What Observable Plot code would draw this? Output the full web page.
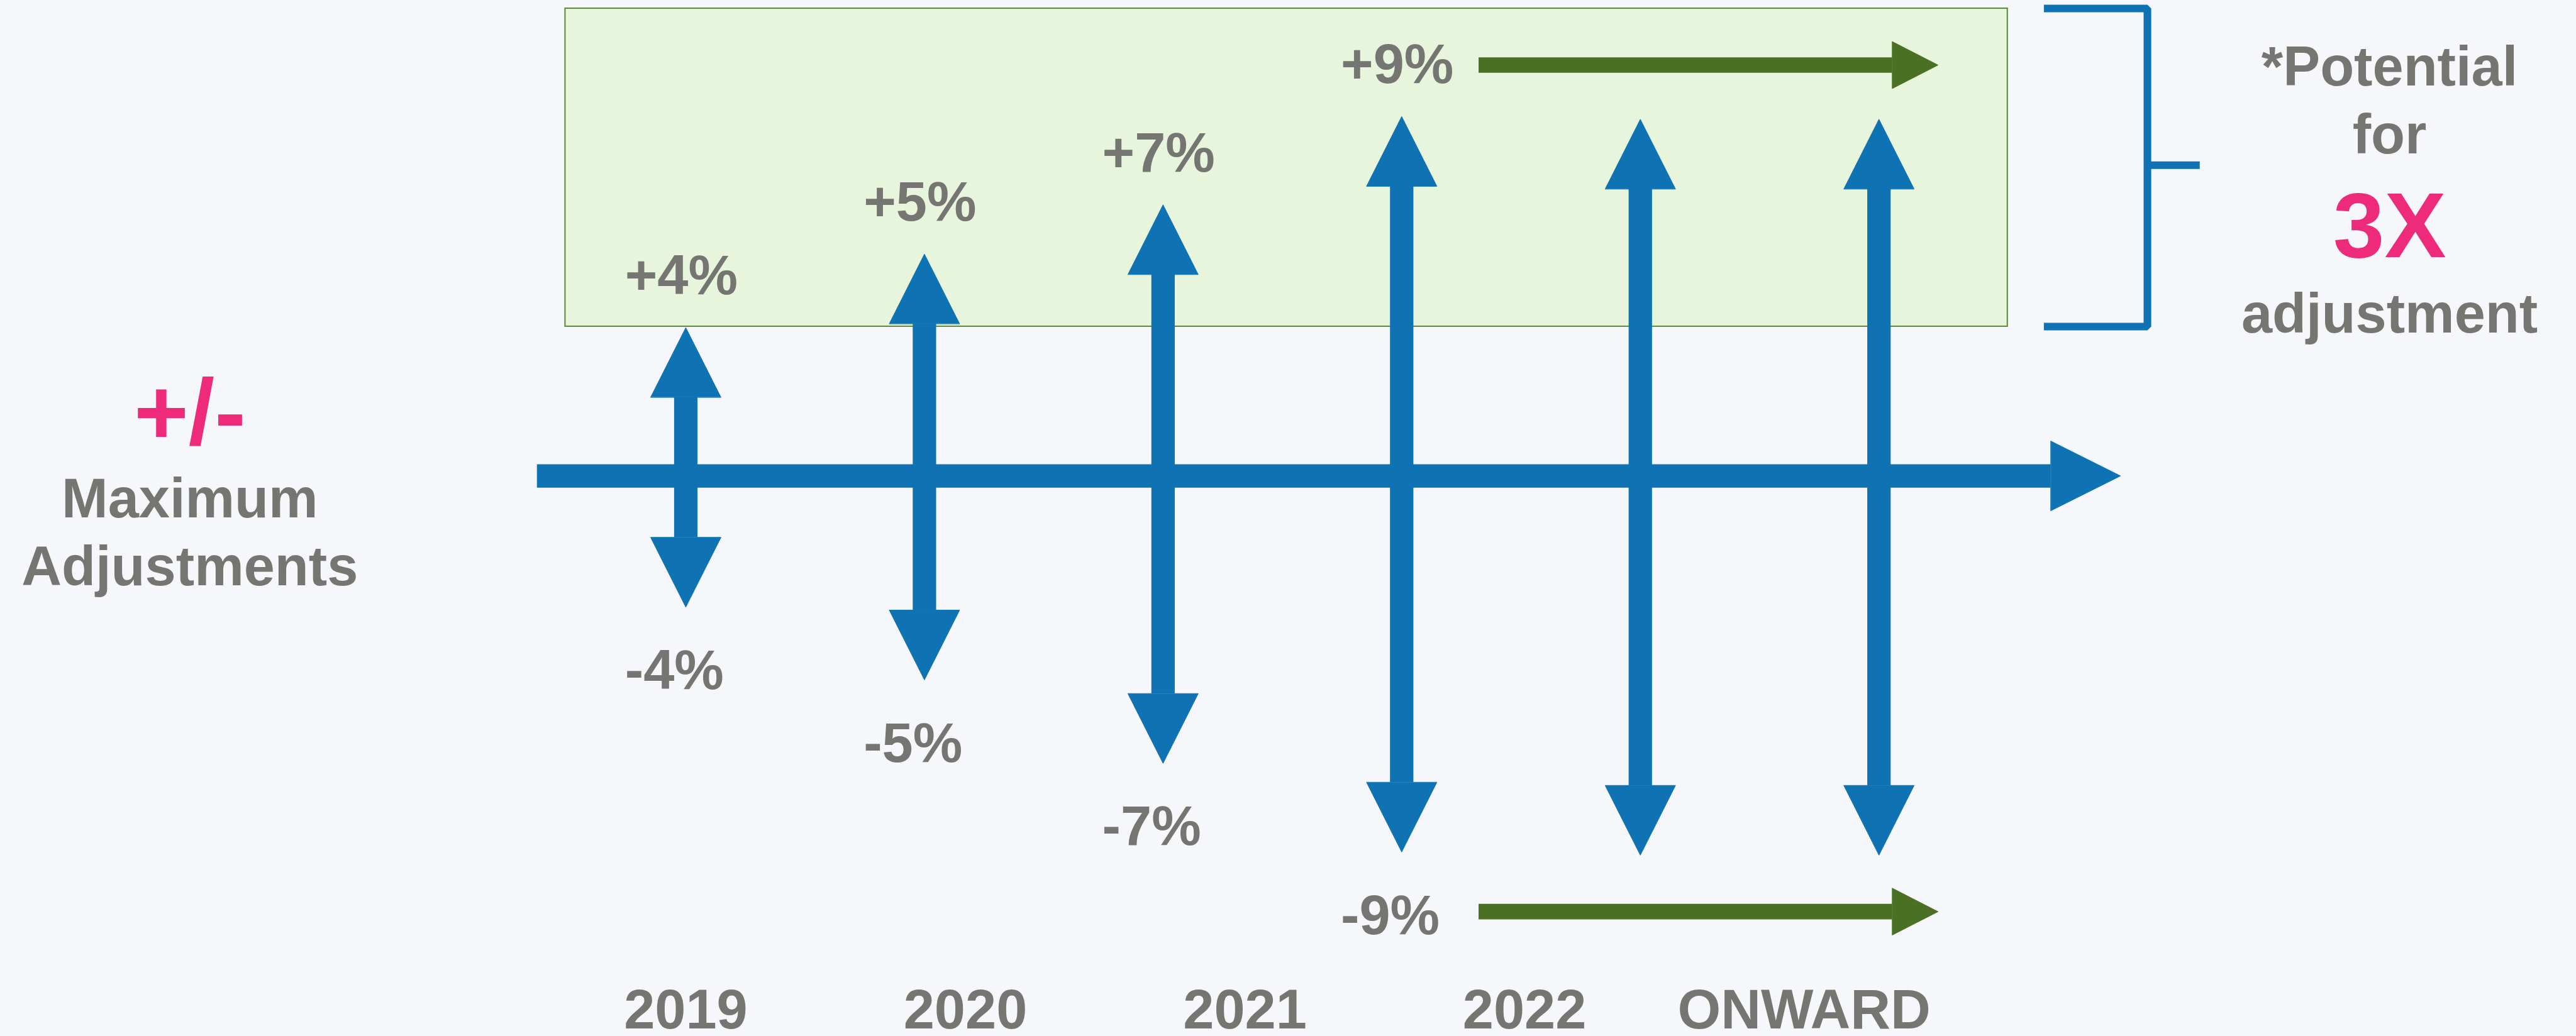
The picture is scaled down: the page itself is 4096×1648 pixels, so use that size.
<!DOCTYPE html>
<html><head><meta charset="utf-8">
<script src="https://cdn.jsdelivr.net/npm/d3@7"></script>
<script src="https://cdn.jsdelivr.net/npm/@observablehq/plot@0.6"></script>
<style>
html,body{margin:0;padding:0;background:#f5f7fb;overflow:hidden}
#chart svg{display:block}
</style></head><body><div id="chart"></div>
<script>
// ---------------- data ----------------
const years = ["2019", "2020", "2021", "2022", "ONWARD"];
const maxUp = [4, 5, 7, 9];          // labelled maximum upward adjustments (%)
const maxDown = [-4, -5, -7, -9];    // labelled maximum downward adjustments (%)
// drawn extent of each arrow (one per period, the last two repeat the 2022 cap), in %
const arrowUp = [3.73, 5.58, 6.82, 9.04, 8.97, 8.97];
const arrowDown = [-3.30, -5.13, -7.23, -9.46, -9.54, -9.54];
const leftTitle = ["Maximum", "Adjustments"];
const leftSymbol = "+/-";
const rightTop = ["*Potential", "for"];
const rightBig = "3X";
const rightBottom = "adjustment";

// ---------------- layout ----------------
const S = 0.93, REF_W = 4400, REF_H = 1770;
const X0 = 1172, DX = 408, Y0 = 813.5, DY = 68;   // reference px of slot 0 / 0%, px per slot / per %
const sx = px => (px - X0) / DX;
const sy = px => (Y0 - px) / DY;
const BLUE = "#0e72b3", GREEN = "#4a7023", PINK = "#ee2a7b", GRAY = "#757672",
      BOXFILL = "#e8f5dd", BOXLINE = "#5e8c3c", BG = "#f5f7fb";
const FONT = "'Liberation Sans', Arial, Helvetica, sans-serif";
const HEAD_L = 119 / DY, HEAD_W = 60 / DX;
const FS = 95 * S;
const YEAR_STEP = 478 / DX;

const arrows = arrowUp.map((u, i) => ({i, up: u, down: arrowDown[i]}));
const heads = [];
arrows.forEach(a => {
  heads.push({id: "u" + a.i, x: a.i - HEAD_W, y: a.up - HEAD_L},
             {id: "u" + a.i, x: a.i, y: a.up},
             {id: "u" + a.i, x: a.i + HEAD_W, y: a.up - HEAD_L});
  heads.push({id: "d" + a.i, x: a.i - HEAD_W, y: a.down + HEAD_L},
             {id: "d" + a.i, x: a.i, y: a.down},
             {id: "d" + a.i, x: a.i + HEAD_W, y: a.down + HEAD_L});
});
// main time axis head
const AX_BASE = sx(3506), AX_TIP = sx(3625), AX_HALF = 59.5 / DY;
heads.push({id: "axis", x: AX_BASE, y: AX_HALF}, {id: "axis", x: AX_TIP, y: 0}, {id: "axis", x: AX_BASE, y: -AX_HALF});

const upLabels = maxUp.map((v, i) => ({i, v, t: "+" + v + "%"}));
const downLabels = maxDown.map((v, i) => ({i, v, t: v + "%"}));

// green "continues" arrows at the level of the last labels
const last = maxUp.length - 1;
const gTop = arrowUp[last] + 88 / DY;
const gBot = arrowDown[last] - 102 / DY;
const G_START = sx(2528), G_BASE = sx(3235), G_TIP = sx(3313), G_HALF = 40 / DY;
const greenShafts = [{y: gTop}, {y: gBot}];
const greenHeads = [];
greenShafts.forEach((g, k) => {
  greenHeads.push({id: k, x: G_BASE, y: g.y + G_HALF}, {id: k, x: G_TIP, y: g.y}, {id: k, x: G_BASE, y: g.y - G_HALF});
});

const box = [{x1: sx(966), x2: sx(3432), y1: sy(558), y2: sy(14)}];
const bracket = [
  {x: sx(3494), y: sy(14)}, {x: sx(3671), y: sy(14)},
  {x: sx(3671), y: sy(558)}, {x: sx(3494), y: sy(558)}
];

const cx = 4085, lx = 324;
const rightTexts = [
  {t: rightTop[0], x: sx(cx), y: sy(146)},
  {t: rightTop[1], x: sx(cx), y: sy(262)},
  {t: rightBottom, x: sx(cx), y: sy(568)}
];
const leftTexts = [
  {t: leftTitle[0], x: sx(lx), y: sy(884)},
  {t: leftTitle[1], x: sx(lx), y: sy(1000)}
];

const plot = Plot.plot({
  width: 4096, height: 1648,
  margin: 0, marginTop: 0, marginRight: 0, marginBottom: 0, marginLeft: 0,
  x: {type: "linear", domain: [sx(0), sx(REF_W)], range: [0, REF_W * S], axis: null},
  y: {type: "linear", domain: [sy(REF_H), sy(0)], range: [REF_H * S, 0], axis: null},
  style: {background: BG, fontFamily: FONT, overflow: "visible"},
  marks: [
    Plot.rect(box, {x1: "x1", x2: "x2", y1: "y1", y2: "y2", fill: BOXFILL, stroke: BOXLINE, strokeWidth: 2.2 * S}),
    // bracket
    Plot.line(bracket, {x: "x", y: "y", stroke: BLUE, strokeWidth: 13 * S, strokeLinejoin: "miter", strokeLinecap: "butt"}),
    Plot.ruleY([sy(282)], {x1: sx(3671), x2: sx(3761), stroke: BLUE, strokeWidth: 13 * S}),
    // time axis
    Plot.ruleY([0], {x1: sx(918), x2: AX_BASE, stroke: BLUE, strokeWidth: 40 * S}),
    // vertical shafts
    Plot.ruleX(arrows, {x: "i", y1: d => d.down + HEAD_L, y2: d => d.up - HEAD_L, stroke: BLUE, strokeWidth: 40 * S}),
    // heads
    Plot.line(heads, {x: "x", y: "y", z: "id", fill: BLUE, stroke: BLUE, strokeWidth: 1, curve: "linear-closed"}),
    // green arrows
    Plot.ruleY(greenShafts, {y: "y", x1: G_START, x2: G_BASE, stroke: GREEN, strokeWidth: 26.5 * S}),
    Plot.line(greenHeads, {x: "x", y: "y", z: "id", fill: GREEN, stroke: GREEN, strokeWidth: 1, curve: "linear-closed"}),
    // percentage labels
    Plot.text(upLabels, {x: "i", y: d => arrowUp[d.i], text: "t", textAnchor: "start", lineAnchor: "bottom",
      dx: -104 * S, dy: -57 * S, fontSize: FS, fontWeight: "bold", fill: GRAY}),
    Plot.text(downLabels, {x: "i", y: d => arrowDown[d.i], text: "t", textAnchor: "start", lineAnchor: "bottom",
      dx: -104 * S, dy: 140 * S, fontSize: FS, fontWeight: "bold", fill: GRAY}),
    // period labels
    Plot.text(years, {x: (d, i) => i * YEAR_STEP, y: () => sy(1759), text: d => d, textAnchor: "middle", lineAnchor: "bottom",
      fontSize: FS, fontWeight: "bold", fill: GRAY}),
    // left title
    Plot.text([leftSymbol], {x: () => sx(lx), y: () => sy(760), text: d => d, textAnchor: "middle", lineAnchor: "bottom",
      fontSize: 160 * S, fontWeight: "bold", fill: PINK}),
    Plot.text(leftTexts, {x: "x", y: "y", text: "t", textAnchor: "middle", lineAnchor: "bottom",
      fontSize: FS, fontWeight: "bold", fill: GRAY}),
    // right note
    Plot.text(rightTexts, {x: "x", y: "y", text: "t", textAnchor: "middle", lineAnchor: "bottom",
      fontSize: FS, fontWeight: "bold", fill: GRAY}),
    Plot.text([rightBig], {x: () => sx(cx), y: () => sy(439), text: d => d, textAnchor: "middle", lineAnchor: "bottom",
      fontSize: 158 * S, fontWeight: "bold", fill: PINK})
  ]
});
document.getElementById("chart").appendChild(plot);
</script>
</body></html>
